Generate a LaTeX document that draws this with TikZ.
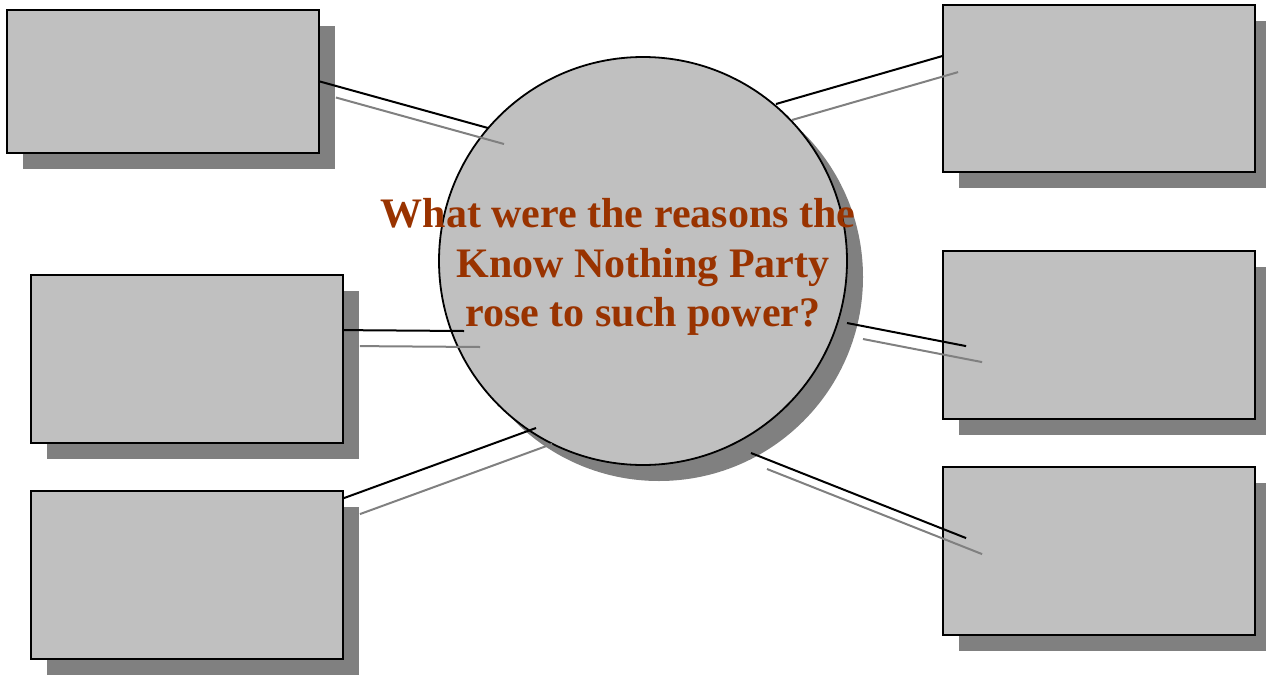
\documentclass[tikz,border=0pt]{standalone}
\usepackage{fontspec}
\setmainfont{Liberation Serif}
\usepackage{xcolor}
\usepackage{tikz}
\usetikzlibrary{shadows, calc}
\definecolor{box-gray}{HTML}{C0C0C0}
\definecolor{shade-gray}{HTML}{808080}
\definecolor{title-brown}{HTML}{993300}

\begin{document}
\begin{tikzpicture}[
  x=1pt, y=-1pt,
  box/.style={rectangle, draw=black, line width=1.8pt, fill=box-gray,
              inner sep=0pt, minimum width=312pt,
              drop shadow={shadow xshift=16pt, shadow yshift=-16pt,
                           opacity=1, fill=shade-gray}},
  hub/.style={circle, draw=black, line width=1.8pt, fill=box-gray,
              inner sep=0pt, minimum size=408pt,
              drop shadow={shadow xshift=16pt, shadow yshift=-16pt,
                           opacity=1, fill=shade-gray}},
  link/.style={line width=2pt, black},
  slink/.style={line width=2pt, shade-gray}
]
  \useasboundingbox (0,0) rectangle (1266,675);

  % boxes left and right
  \node[box, minimum height=143pt] (tl) at (163,81.5) {};
  \node[box, minimum height=168pt] (ml) at (187,359) {};
  \node[box, minimum height=168pt] (bl) at (187,575) {};
  \node[box, minimum height=167pt] (tr) at (1099,88.5) {};
  \node[box, minimum height=168pt] (mr) at (1099,335) {};
  \node[box, minimum height=168pt] (br) at (1099,551) {};

  % centre question
  \node[hub] (hub) at (643,261) {};
  \node[text=title-brown, align=center,
        font=\bfseries\fontsize{42}{49.5}\selectfont]
       (question) at (643,267)
       {What were the reasons the\hspace*{50pt}\\Know Nothing Party\\rose to such power?};

  % line ends
  \coordinate (tl-e) at (tl.east);
  \coordinate (ml-e) at ([yshift=-56pt]ml.north east);
  \coordinate (bl-e) at ([yshift=-8pt]bl.north east);
  \coordinate (tr-e) at ([yshift=-52pt]tr.north west);
  \coordinate (mr-e) at ([shift={(24pt,-96pt)}]mr.north west);
  \coordinate (br-e) at ([shift={(24pt,-72pt)}]br.north west);
  \coordinate (c1) at (488,128);
  \coordinate (c2) at (776,104);
  \coordinate (c3) at (464,331);
  \coordinate (c4) at (847,323);
  \coordinate (c5) at (536,428);
  \coordinate (c6) at (751,453);

  \foreach \a/\b in {tl-e/c1, c2/tr-e, ml-e/c3, c4/mr-e, bl-e/c5, c6/br-e}{
    \draw[slink] ([shift={(16pt,-16pt)}]\a) -- ([shift={(16pt,-16pt)}]\b);
    \draw[link] (\a) -- (\b);
  }

\end{tikzpicture}
\end{document}
